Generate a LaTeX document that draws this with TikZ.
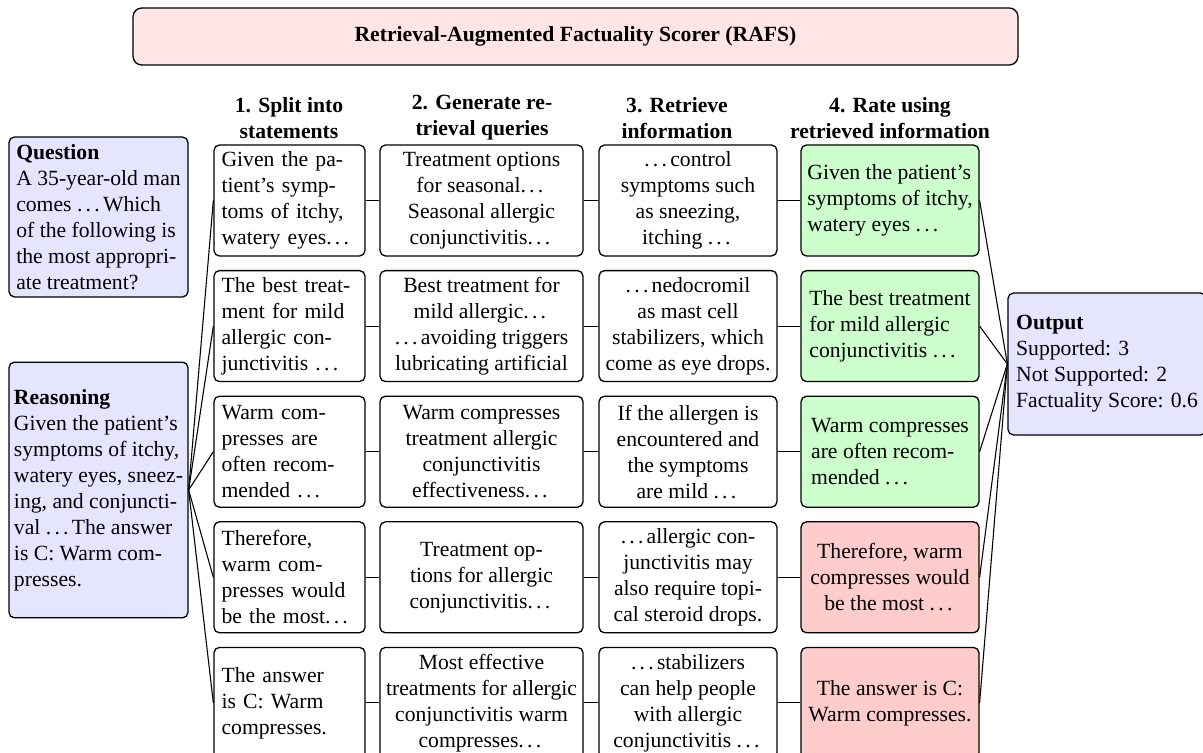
\documentclass[tikz,border=0pt]{standalone}
\usepackage{fontspec}
\setmainfont{Liberation Serif}
\renewcommand{\ldots}{.\kern1.5pt.\kern1.5pt.\kern1.5pt}
\begin{document}
\begin{tikzpicture}[x=0.01622cm,y=-0.01622cm,
    stmt/.style={draw,rounded corners=2.5pt,fill=white,minimum height=51.2pt,
      inner sep=1pt,line width=0.6pt},
    splitbox/.style={stmt,text width=62.7pt,inner xsep=3.5pt,align=left},
    querybox/.style={stmt,minimum width=93.7pt,align=center},
    infobox/.style={stmt,minimum width=82.1pt,align=center},
    okbox/.style={stmt,minimum width=82.1pt,fill=green!20,align=left},
    badbox/.style={stmt,minimum width=82.1pt,fill=red!20,align=center},
    inbox/.style={draw,rounded corners=2.5pt,fill=blue!10,inner sep=1pt,
      line width=0.6pt,minimum width=82.6pt,align=left},
    hdr/.style={font=\bfseries,align=center},
    link/.style={line width=0.5pt}]
  \useasboundingbox (0,0) rectangle (1203,753);

  % Title bar
  \node [draw,rounded corners=4pt,fill=red!10,line width=0.6pt,
    minimum width=408.4pt,minimum height=26.3pt] (title) at (575.5,36.5)
    {\textbf{Retrieval-Augmented Factuality Scorer (RAFS)}};

  % Column headers
  \node [hdr] (h1) at (289,118) {1. Split into\\statements};
  \node [hdr] (h2) at (482,118) {2. Generate re-\\trieval queries};
  \node [hdr] (h3) at (677,118) {3. Retrieve\\information};
  \node [hdr] (h4) at (890,118) {4. Rate using\\retrieved information};

  % Inputs
  \node [inbox,minimum height=73.8pt] (question) at (98.5,217)
    {\textbf{Question}\\A 35-year-old man\\comes \ldots Which\\of the following is\\the most appropri-\\ate treatment?};
  \node [inbox,minimum height=118pt] (reason) at (98.5,490)
    {\textbf{Reasoning}\\Given the patient's\\symptoms of itchy,\\watery eyes, sneez-\\ing, and conjuncti-\\val \ldots The answer\\is C: Warm com-\\presses.};

  % 1. statements
  \node [splitbox] (s1) at (289.5,200.5) {Given the pa-\\tient's symp-\\toms of itchy,\\watery eyes\ldots};
  \node [splitbox] (s2) at (289.5,326.1) {The best treat-\\ment for mild\\allergic con-\\junctivitis \ldots};
  \node [splitbox] (s3) at (289.5,451.7) {Warm com-\\presses are\\often recom-\\mended \ldots};
  \node [splitbox] (s4) at (289.5,577.3) {Therefore,\\warm com-\\presses would\\be the most\ldots};
  \node [splitbox] (s5) at (289.5,702.9) {The answer\\is C: Warm\\compresses.};

  % 2. queries
  \node [querybox] (q1) at (481.5,200.5) {Treatment options\\for seasonal\ldots\\Seasonal allergic\\conjunctivitis\ldots};
  \node [querybox] (q2) at (481.5,326.1) {Best treatment for\\mild allergic\ldots\\\ldots avoiding triggers\\lubricating artificial};
  \node [querybox] (q3) at (481.5,451.7) {Warm compresses\\treatment allergic\\conjunctivitis\\effectiveness\ldots};
  \node [querybox] (q4) at (481.5,577.3) {Treatment op-\\tions for allergic\\conjunctivitis\ldots};
  \node [querybox] (q5) at (481.5,702.9) {Most effective\\treatments for allergic\\conjunctivitis warm\\compresses\ldots};

  % 3. retrieved information
  \node [infobox] (r1) at (688,200.5) {\ldots control\\symptoms such\\as sneezing,\\itching \ldots};
  \node [infobox] (r2) at (688,326.1) {\ldots nedocromil\\as mast cell\\stabilizers, which\\come as eye drops.};
  \node [infobox] (r3) at (688,451.7) {If the allergen is\\encountered and\\the symptoms\\are mild \ldots};
  \node [infobox] (r4) at (688,577.3) {\ldots allergic con-\\junctivitis may\\also require topi-\\cal steroid drops.};
  \node [infobox] (r5) at (688,702.9) {\ldots stabilizers\\can help people\\with allergic\\conjunctivitis \ldots};

  % 4. ratings
  \node [okbox] (v1) at (890,200.5) {Given the patient's\\symptoms of itchy,\\watery eyes \ldots};
  \node [okbox] (v2) at (890,326.1) {The best treatment\\for mild allergic\\conjunctivitis \ldots};
  \node [okbox] (v3) at (890,451.7) {Warm compresses\\are often recom-\\mended \ldots};
  \node [badbox] (v4) at (890,577.3) {Therefore, warm\\compresses would\\be the most \ldots};
  \node [badbox] (v5) at (890,702.9) {The answer is C:\\Warm compresses.};

  % Output
  \node [inbox,minimum width=91.4pt,minimum height=65.5pt] (out) at (1107,364)
    {\textbf{Output}\\Supported: 3\\Not Supported: 2\\Factuality Score: 0.6};

  % Links from reasoning
  \draw [link] (reason.east) -- (s1.west);
  \draw [link] (reason.east) -- (s2.west);
  \draw [link] (reason.east) -- (s3.west);
  \draw [link] (reason.east) -- (s4.west);
  \draw [link] (reason.east) -- (s5.west);

  % Links along each row
  \draw [link] (s1) -- (q1) (q1) -- (r1) (r1) -- (v1);
  \draw [link] (s2) -- (q2) (q2) -- (r2) (r2) -- (v2);
  \draw [link] (s3) -- (q3) (q3) -- (r3) (r3) -- (v3);
  \draw [link] (s4) -- (q4) (q4) -- (r4) (r4) -- (v4);
  \draw [link] (s5) -- (q5) (q5) -- (r5) (r5) -- (v5);

  % Links into output
  \draw [link] (v1.east) -- (out.west);
  \draw [link] (v2.east) -- (out.west);
  \draw [link] (v3.east) -- (out.west);
  \draw [link] (v4.east) -- (out.west);
  \draw [link] (v5.east) -- (out.west);

\end{tikzpicture}
\end{document}
